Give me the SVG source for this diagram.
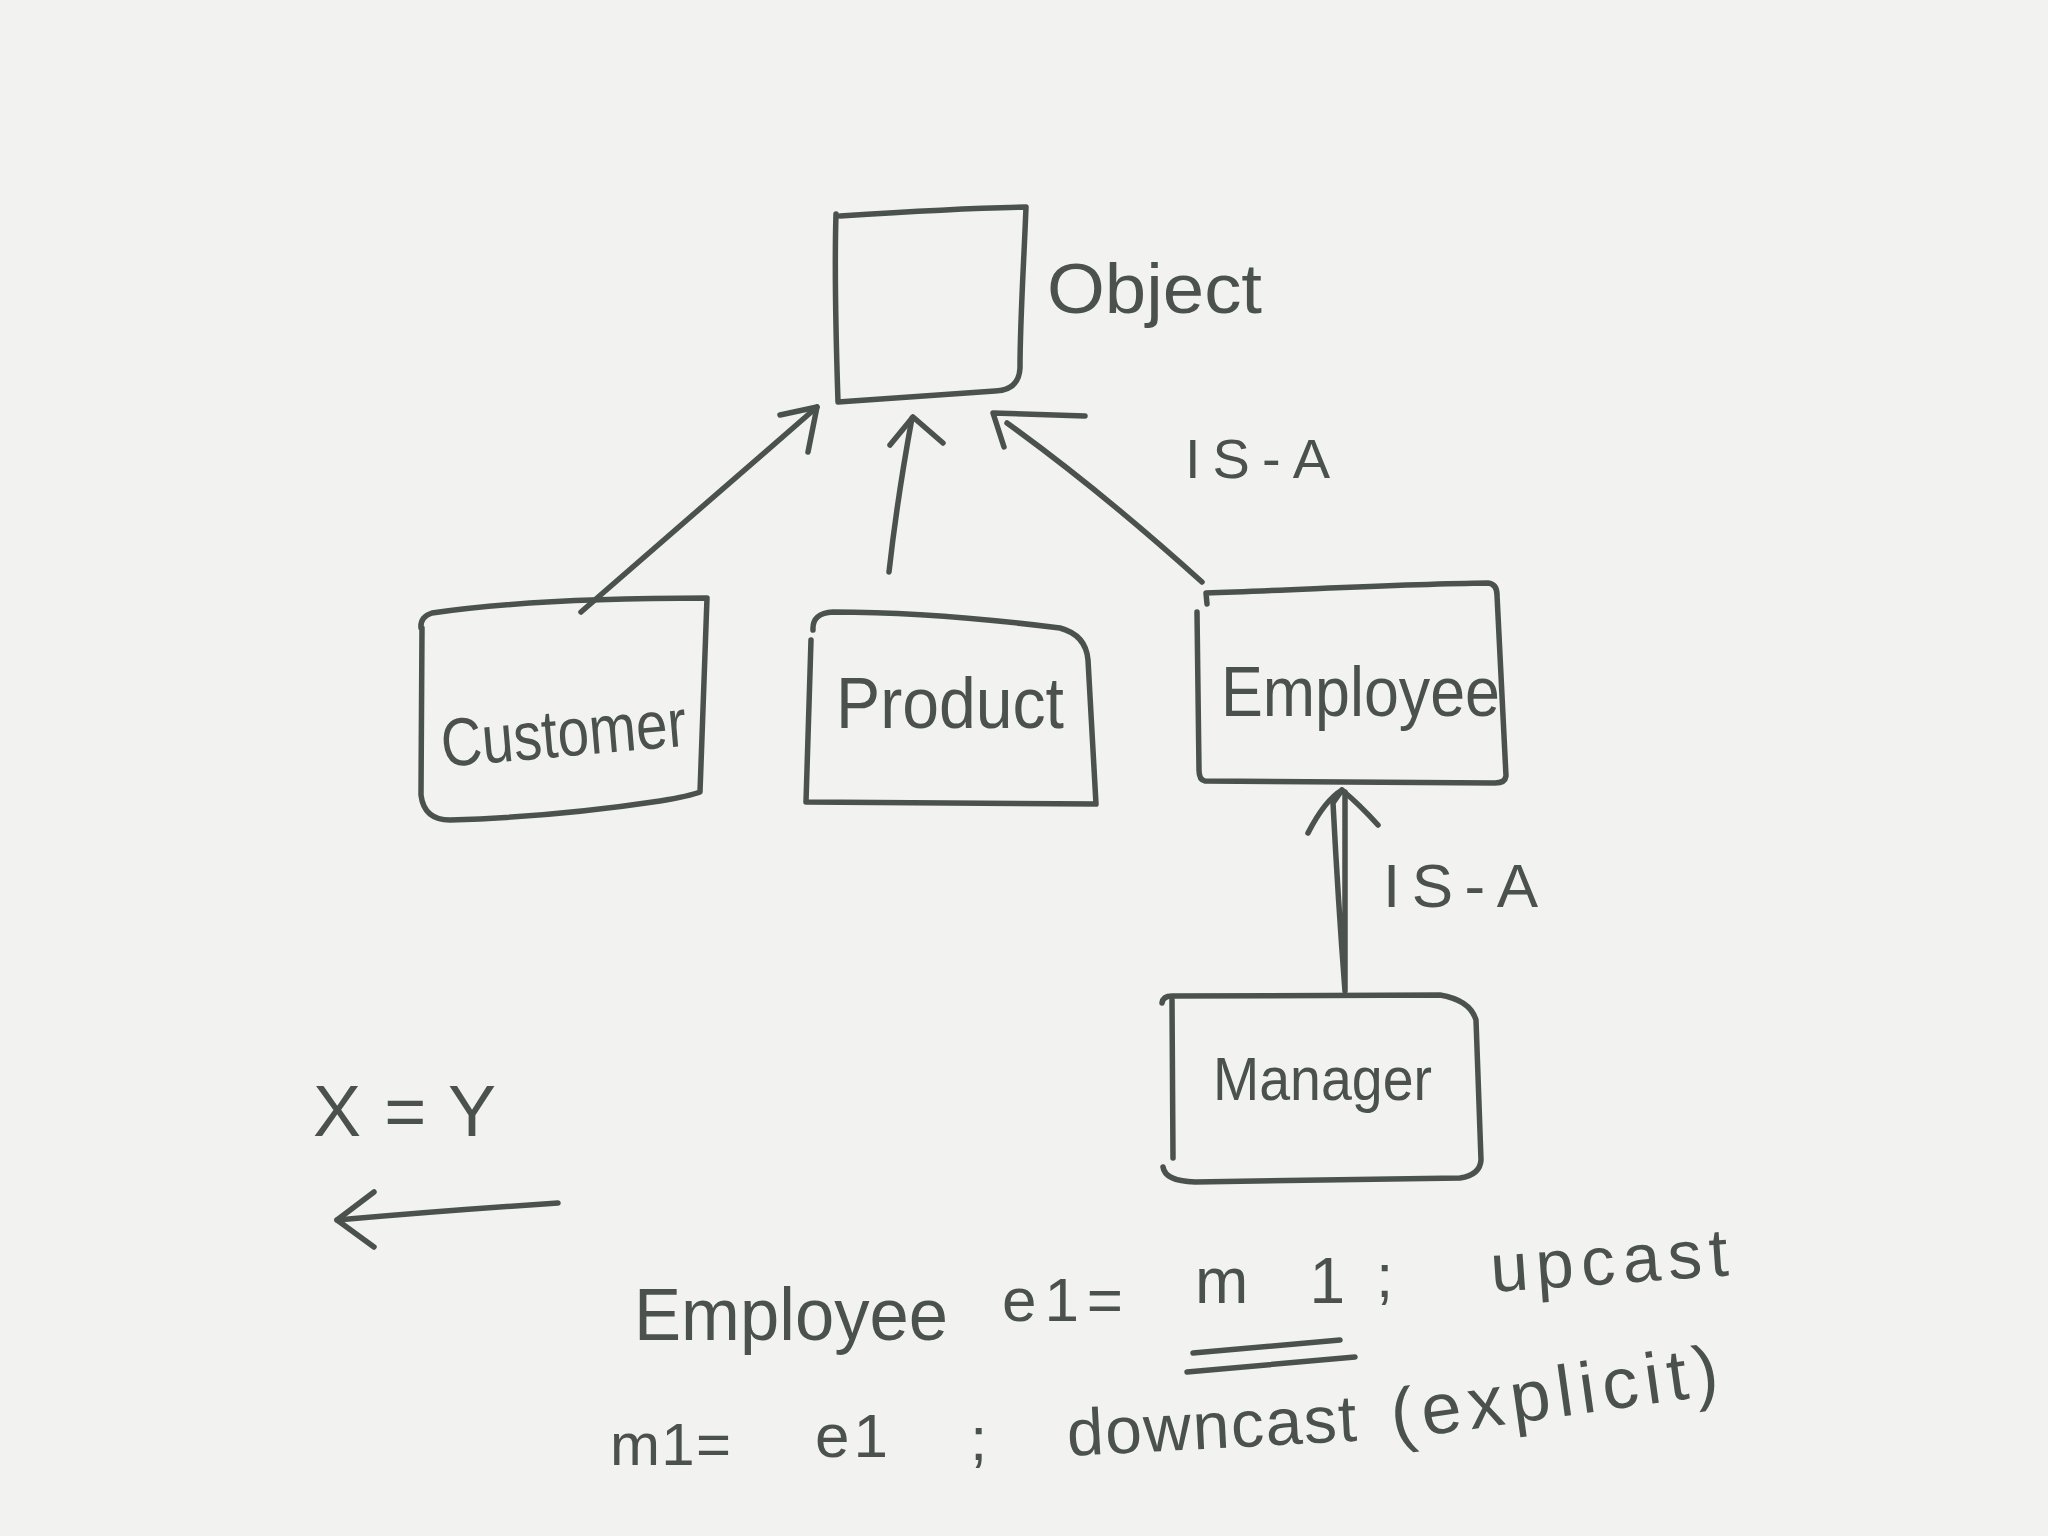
<svg xmlns="http://www.w3.org/2000/svg" width="2048" height="1536" viewBox="0 0 2048 1536">
<style>
.ink{fill:none;stroke:#4b524d;stroke-width:5.5;stroke-linecap:round;stroke-linejoin:round}
.t{fill:#4b524d;font-family:"Liberation Sans","DejaVu Sans",sans-serif}
</style>
<rect width="2048" height="1536" fill="#f2f2f0"/>
<g id="object">
<path class="ink" d="M840,216 C900,212 960,208 1026,207 C1024,260 1020,320 1020,368 Q1019,390 995,391 L838,402 C836,340 834,280 836,214"/>
<text class="t" x="1047" y="313" font-size="70" textLength="215" lengthAdjust="spacingAndGlyphs">Object</text>
</g>
<g id="customer">
<path class="ink" d="M421,628 Q420,617 432,613 C500,603 600,598 707,598 L700,792 Q690,796 660,801 C600,810 520,818 450,820 Q424,820 421,795 L422,628"/>
<text class="t" x="443" y="767" font-size="68" textLength="246" lengthAdjust="spacingAndGlyphs" transform="rotate(-5 443 767)">Customer</text>
</g>
<g id="product">
<path class="ink" d="M813,630 Q812,613 833,612 C900,612 980,618 1060,628 Q1086,635 1088,660 L1096,804 L806,802 L811,640"/>
<text class="t" x="836" y="728" font-size="72" textLength="228" lengthAdjust="spacingAndGlyphs">Product</text>
</g>
<g id="employee">
<path class="ink" d="M1207,604 L1206,593 C1300,590 1400,584 1488,583 Q1497,584 1497,595 L1506,776 Q1505,783 1495,783 L1205,781 Q1199,780 1199,770 L1197,612"/>
<text class="t" x="1221" y="716" font-size="70" textLength="279" lengthAdjust="spacingAndGlyphs">Employee</text>
</g>
<g id="manager">
<path class="ink" d="M1162,1003 Q1163,996 1172,996 L1440,995 Q1470,1000 1476,1020 L1481,1160 Q1480,1175 1460,1178 L1195,1182 Q1165,1181 1163,1167 M1172,1000 L1173,1158"/>
<text class="t" x="1213" y="1100" font-size="62" textLength="219" lengthAdjust="spacingAndGlyphs">Manager</text>
</g>
<g id="connectors">
<path class="ink" d="M581,612 L817,407"/>
<path class="ink" d="M780,415 L817,407 L808,452"/>
<path class="ink" d="M889,572 Q897,500 912,418"/>
<path class="ink" d="M890,445 L913,417 L943,443"/>
<path class="ink" d="M1202,582 Q1100,490 1007,423"/>
<path class="ink" d="M1085,416 L993,413 L1004,447"/>
<path class="ink" d="M1345,991 L1345,792 M1345,991 Q1338,900 1333,803 L1342,790"/>
<path class="ink" d="M1308,833 Q1325,800 1342,790 Q1360,805 1378,825"/>
<path class="ink" d="M558,1203 Q450,1210 337,1220"/>
<path class="ink" d="M374,1192 L337,1220 L374,1247"/>
</g>
<g id="labels">
<text class="t" x="1185" y="478" font-size="56" textLength="145">IS-A</text>
<text class="t" x="1383" y="907" font-size="62" textLength="155">IS-A</text>
<text class="t" x="313" y="1136" font-size="72" textLength="183">X = Y</text>
</g>
<g id="notes">
<text class="t" x="634" y="1340" font-size="74" textLength="314" lengthAdjust="spacingAndGlyphs">Employee</text>
<text class="t" x="1002" y="1321" font-size="62" textLength="121">e1=</text>
<text class="t" x="1195" y="1303" font-size="64" textLength="150">m1</text>
<text class="t" x="1376" y="1297" font-size="62">;</text>
<text class="t" x="1492" y="1292" font-size="68" textLength="238" transform="rotate(-4 1492 1292)">upcast</text>
<path class="ink" d="M1193,1353 L1340,1340 M1187,1372 L1355,1357"/>
<text class="t" x="610" y="1465" font-size="60" textLength="121">m1=</text>
<text class="t" x="815" y="1457" font-size="62" textLength="73">e1</text>
<text class="t" x="970" y="1460" font-size="62">;</text>
<text class="t" x="1068" y="1456" font-size="66" textLength="290" transform="rotate(-3 1068 1456)">downcast</text>
<text class="t" x="1394" y="1440" font-size="72" textLength="330" transform="rotate(-8 1394 1440)">(explicit)</text>
</g>
</svg>
